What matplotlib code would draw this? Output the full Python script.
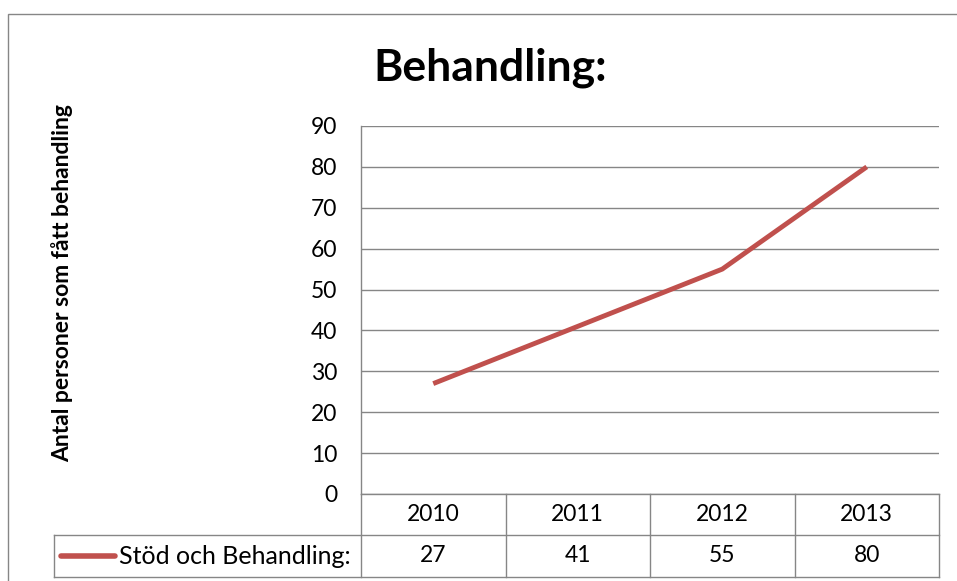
import matplotlib
matplotlib.use("Agg")
import matplotlib.pyplot as plt
from matplotlib.patches import Rectangle
import matplotlib.transforms as mtransforms

years = ["2010", "2011", "2012", "2013"]
values = [27, 41, 55, 80]
series_name = "Stöd och Behandling:"
title = "Behandling:"
ylabel = "Antal personer som fått behandling"
yticks = list(range(0, 100, 10))

W, H = 957, 581
fig = plt.figure(figsize=(W / 100, H / 100), dpi=100)
plt.rcParams['font.family'] = ['Lato', 'DejaVu Sans']

def px(x0, y0, x1, y1):
    return [x0 / W, 1 - y1 / H, (x1 - x0) / W, (y1 - y0) / H]

ax = fig.add_axes(px(361, 126, 939, 494))
xs = list(range(len(years)))
ax.plot(xs, values, color="#C0504D", lw=3.5, solid_capstyle="butt")
ax.set_xlim(-0.5, len(years) - 0.5)
ax.set_ylim(0, 90)
ax.set_yticks(yticks)
ax.set_yticklabels([str(t) for t in yticks], fontsize=16.5)
ax.tick_params(axis="y", length=0, pad=17)
ax.set_xticks([])
ax.grid(axis="y", color="#868686", lw=1)
ax.set_axisbelow(True)
for s in ["top", "right"]:
    ax.spines[s].set_visible(False)
for s in ["left", "bottom"]:
    ax.spines[s].set_color("#868686")
    ax.spines[s].set_linewidth(1)

gray = "#868686"
tr = mtransforms.blended_transform_factory(ax.transData, fig.transFigure)
def fy(y):
    return 1 - y / H
row_top, row_mid, row_bot = 494, 535, 577
left_px = 54
ppc = (939 - 361) / len(years)
x_left = -0.5 - (361 - left_px) / ppc
xr = len(years) - 0.5
ax.plot([x_left, xr], [fy(row_mid)] * 2, transform=tr, color=gray, lw=1, clip_on=False)
ax.plot([x_left, xr], [fy(row_bot)] * 2, transform=tr, color=gray, lw=1, clip_on=False)
for i in range(len(years) + 1):
    ax.plot([i - 0.5] * 2, [fy(row_top), fy(row_bot)], transform=tr, color=gray, lw=1, clip_on=False)
ax.plot([x_left] * 2, [fy(row_mid), fy(row_bot)], transform=tr, color=gray, lw=1, clip_on=False)

for i, (yr, v) in enumerate(zip(years, values)):
    ax.text(i, fy((row_top + row_mid) / 2), yr, transform=tr, ha="center", va="center", fontsize=16.5)
    ax.text(i, fy((row_mid + row_bot) / 2), str(v), transform=tr, ha="center", va="center", fontsize=16.5)

# legend key in table
ax.plot([x_left + (61 - left_px) / ppc, x_left + (115 - left_px) / ppc], [fy(555.5)] * 2, transform=tr,
        color="#C0504D", lw=4, solid_capstyle="round", clip_on=False)
fig.text(119 / W, fy(556), series_name, ha="left", va="center", fontsize=18)

fig.text(490 / W, fy(68), title, ha="center", va="center", fontsize=32, fontweight="bold")
fig.text(62 / W, fy(283), ylabel, ha="center", va="center", rotation=90, fontsize=16.5, fontweight="bold")

fig.patches.append(Rectangle((8 / W, -0.1), 1.2, fy(14) + 0.1, transform=fig.transFigure,
                             fill=False, edgecolor=gray, lw=1))

fig.savefig("out.png", dpi=100)
